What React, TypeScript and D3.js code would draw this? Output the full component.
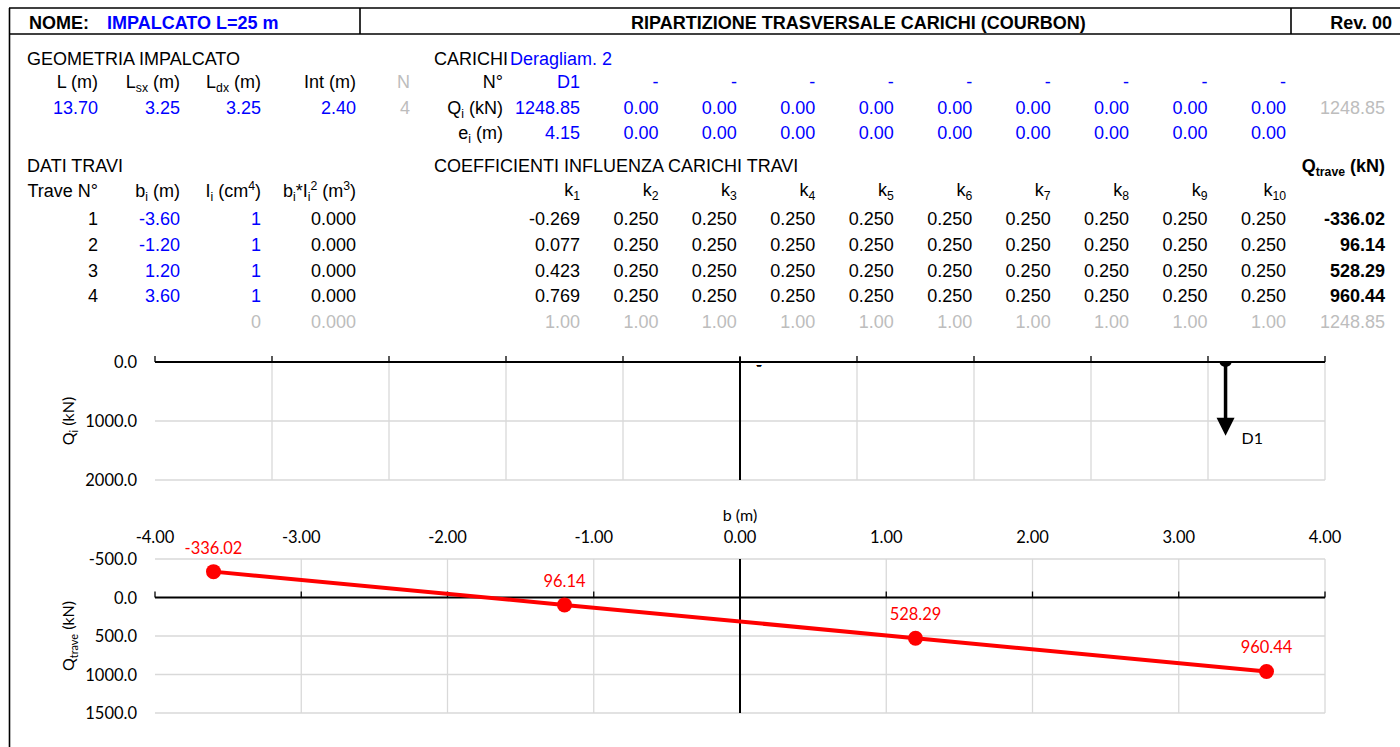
import React from 'react';
import * as d3 from 'd3';

// intestazione
const projectName = 'IMPALCATO L=25 m';
const sheetTitle = 'RIPARTIZIONE TRASVERSALE CARICHI (COURBON)';
const revision = 'Rev. 00';

// geometria impalcato
const geomValues = [13.7, 3.25, 3.25, 2.4];
const beamCount = 4;

// carichi
const loadCase = 'Deragliam. 2';
const loadNames = ['D1', '-', '-', '-', '-', '-', '-', '-', '-', '-'];
const loadQ = [1248.85, 0, 0, 0, 0, 0, 0, 0, 0, 0];
const loadE = [4.15, 0, 0, 0, 0, 0, 0, 0, 0, 0];
const loadTotal = 1248.85;

// travi
const beamNo = [1, 2, 3, 4];
const beamB = [-3.6, -1.2, 1.2, 3.6];
const beamI = [1, 1, 1, 1];
const beamBI2 = [0, 0, 0, 0];
const kRows = [
  [-0.269, 0.25, 0.25, 0.25, 0.25, 0.25, 0.25, 0.25, 0.25, 0.25],
  [0.077, 0.25, 0.25, 0.25, 0.25, 0.25, 0.25, 0.25, 0.25, 0.25],
  [0.423, 0.25, 0.25, 0.25, 0.25, 0.25, 0.25, 0.25, 0.25, 0.25],
  [0.769, 0.25, 0.25, 0.25, 0.25, 0.25, 0.25, 0.25, 0.25, 0.25],
];
const kSums = [1, 1, 1, 1, 1, 1, 1, 1, 1, 1];
const qTrave = [-336.02, 96.14, 528.29, 960.44];
const qTraveTotal = 1248.85;
const iTotal = 0;
const bi2Total = 0;

// assi grafici
const loadTicksX = [-5, -4, -3, -2, -1, 0, 1, 2, 3, 4, 5];
const loadTicksY = [0, 1000, 2000];
const beamTicksX = [-4, -3, -2, -1, 0, 1, 2, 3, 4];
const beamTicksY = [-500, 0, 500, 1000, 1500];

const TF = "'Liberation Sans', Arial, Helvetica, sans-serif";
const CF = "Lato, 'Open Sans', sans-serif";
const BLUE = '#0000ff';
const GRAY = '#bdbdbd';
const GRID = '#d9d9d9';

// formato con il trattino normale come segno meno (come Excel)
const loc = d3.formatLocale({ decimal: '.', thousands: '', grouping: [3], currency: ['', ''], minus: '-' });
const f2 = loc.format('.2f');
const f3 = loc.format('.3f');
const f1 = loc.format('.1f');

// colonne carichi / coefficienti (bordo destro)
const colX = d3.scaleLinear().domain([0, 9]).range([580, 1286]);
const totX = 1385;

type Part = string | { sub: string } | { sup: string };

function Rich({ parts, size = 18 }: { parts: Part[]; size?: number }) {
  const out: React.ReactNode[] = [];
  let shift = 0;
  parts.forEach((p, i) => {
    if (typeof p === 'string') {
      out.push(<tspan key={i} dy={-shift} fontSize={size}>{p}</tspan>);
      shift = 0;
    } else if ('sub' in p) {
      out.push(<tspan key={i} dy={4 - shift} fontSize={size * 0.68}>{p.sub}</tspan>);
      shift = 4;
    } else {
      out.push(<tspan key={i} dy={-7 - shift} fontSize={size * 0.68}>{p.sup}</tspan>);
      shift = -7;
    }
  });
  return <>{out}</>;
}

const T = (props: any) => (
  <text fontFamily={TF} fontSize={18} {...props} />
);

export default function App() {
  // grafico carichi
  const lx = d3.scaleLinear().domain([-5, 5]).range([155, 1325]);
  const ly = d3.scaleLinear().domain([0, 2000]).range([362, 480]);
  // grafico ripartizione
  const bx = d3.scaleLinear().domain([-4, 4]).range([155, 1325]);
  const by = d3.scaleLinear().domain([-500, 1500]).range([559, 713]);

  const pts = beamB.map((b, i) => ({ b, q: qTrave[i] }));
  const line = d3.line<{ b: number; q: number }>().x(d => bx(d.b)).y(d => by(d.q));

  const geomHead: Part[][] = [
    ['L (m)'],
    ['L', { sub: 'sx' }, ' (m)'],
    ['L', { sub: 'dx' }, ' (m)'],
    ['Int (m)'],
  ];
  const geomX = [98, 180, 261, 356];

  const beamHead: Part[][] = [
    ['Trave N°'],
    ['b', { sub: 'i' }, ' (m)'],
    ['I', { sub: 'i' }, ' (cm', { sup: '4' }, ')'],
    ['b', { sub: 'i' }, '*I', { sub: 'i' }, { sup: '2' }, ' (m', { sup: '3' }, ')'],
  ];
  const rowY = (i: number) => 225 + i * 25.8;

  return (
    <div style={{ position: 'absolute', left: 0, top: 0 }}>
      <svg width={1400} height={747} style={{ display: 'block', background: '#fff' }}>
        {/* cornice */}
        <g stroke="#000" strokeWidth={1.6}>
          <line x1={9} x2={1400} y1={8} y2={8} />
          <line x1={9} x2={1400} y1={34} y2={34} />
          <line x1={9.5} x2={9.5} y1={8} y2={747} />
          <line x1={360} x2={360} y1={8} y2={34} />
          <line x1={1291} x2={1291} y1={8} y2={34} />
        </g>
        <T x={29} y={29} fontWeight="bold">NOME:</T>
        <T x={107} y={29} fontWeight="bold" fill={BLUE}>{projectName}</T>
        <T x={631} y={29} fontWeight="bold">{sheetTitle}</T>
        <T x={1392} y={29} fontWeight="bold" textAnchor="end">{revision}</T>

        {/* geometria */}
        <T x={27} y={65}>GEOMETRIA IMPALCATO</T>
        {geomHead.map((p, i) => (
          <T key={i} x={geomX[i]} y={88} textAnchor="end"><Rich parts={p} /></T>
        ))}
        <T x={410} y={88} textAnchor="end" fill={GRAY}>N</T>
        {geomValues.map((v, i) => (
          <T key={i} x={geomX[i]} y={114} textAnchor="end" fill={BLUE}>{f2(v)}</T>
        ))}
        <T x={410} y={114} textAnchor="end" fill={GRAY}>{beamCount}</T>

        {/* carichi */}
        <T x={434} y={65}>CARICHI</T>
        <T x={510} y={65} fill={BLUE}>{loadCase}</T>
        <T x={503} y={88} textAnchor="end">N°</T>
        <T x={503} y={114} textAnchor="end"><Rich parts={['Q', { sub: 'i' }, ' (kN)']} /></T>
        <T x={503} y={139} textAnchor="end"><Rich parts={['e', { sub: 'i' }, ' (m)']} /></T>
        {loadNames.map((n, i) => (
          <T key={i} x={colX(i)} y={88} textAnchor="end" fill={BLUE}>{n}</T>
        ))}
        {loadQ.map((v, i) => (
          <T key={i} x={colX(i)} y={114} textAnchor="end" fill={BLUE}>{f2(v)}</T>
        ))}
        {loadE.map((v, i) => (
          <T key={i} x={colX(i)} y={139} textAnchor="end" fill={BLUE}>{f2(v)}</T>
        ))}
        <T x={totX} y={114} textAnchor="end" fill={GRAY}>{f2(loadTotal)}</T>

        {/* dati travi */}
        <T x={27} y={172}>DATI TRAVI</T>
        {beamHead.map((p, i) => (
          <T key={i} x={geomX[i]} y={197} textAnchor="end"><Rich parts={p} /></T>
        ))}
        {beamNo.map((n, i) => (
          <g key={i}>
            <T x={geomX[0]} y={rowY(i)} textAnchor="end">{n}</T>
            <T x={geomX[1]} y={rowY(i)} textAnchor="end" fill={BLUE}>{f2(beamB[i])}</T>
            <T x={geomX[2]} y={rowY(i)} textAnchor="end" fill={BLUE}>{beamI[i]}</T>
            <T x={geomX[3]} y={rowY(i)} textAnchor="end">{f3(beamBI2[i])}</T>
          </g>
        ))}
        <T x={geomX[2]} y={rowY(4)} textAnchor="end" fill={GRAY}>{iTotal}</T>
        <T x={geomX[3]} y={rowY(4)} textAnchor="end" fill={GRAY}>{f3(bi2Total)}</T>

        {/* coefficienti */}
        <T x={434} y={172}>COEFFICIENTI INFLUENZA CARICHI TRAVI</T>
        <T x={totX} y={172} textAnchor="end" fontWeight="bold">
          <Rich parts={['Q', { sub: 'trave' }, ' (kN)']} />
        </T>
        {kSums.map((_, j) => (
          <T key={j} x={colX(j)} y={196} textAnchor="end">
            <Rich parts={['k', { sub: String(j + 1) }]} />
          </T>
        ))}
        {kRows.map((row, i) => (
          <g key={i}>
            {row.map((k, j) => (
              <T key={j} x={colX(j)} y={rowY(i)} textAnchor="end">{f3(k)}</T>
            ))}
            <T x={totX} y={rowY(i)} textAnchor="end" fontWeight="bold">{f2(qTrave[i])}</T>
          </g>
        ))}
        {kSums.map((s, j) => (
          <T key={j} x={colX(j)} y={rowY(4)} textAnchor="end" fill={GRAY}>{f2(s)}</T>
        ))}
        <T x={totX} y={rowY(4)} textAnchor="end" fill={GRAY}>{f2(qTraveTotal)}</T>

        {/* grafico carichi */}
        <g>
          {loadTicksX.filter(t => t !== 0 && t !== -5).map(t => (
            <line key={t} x1={lx(t)} x2={lx(t)} y1={ly(0)} y2={ly(2000)} stroke={GRID} strokeWidth={1.3} />
          ))}
          {loadTicksY.filter(t => t !== 0).map(t => (
            <line key={t} x1={lx(-5)} x2={lx(5)} y1={ly(t)} y2={ly(t)} stroke={GRID} strokeWidth={1.3} />
          ))}
          <line x1={lx(0)} x2={lx(0)} y1={ly(0) - 5} y2={ly(2000)} stroke="#000" strokeWidth={2} />
          <line x1={lx(-5)} x2={lx(5)} y1={ly(0)} y2={ly(0)} stroke="#000" strokeWidth={2} />
          {loadTicksX.map(t => (
            <line key={t} x1={lx(t)} x2={lx(t)} y1={ly(0)} y2={ly(0) - 6} stroke="#000" strokeWidth={1.3} />
          ))}
          {loadTicksY.map(t => (
            <text key={t} x={137} y={ly(t) + 6} textAnchor="end" fontFamily={CF} fontSize={16.5}>{f1(t)}</text>
          ))}
          <text transform={`translate(74,${ly(1000)}) rotate(-90)`} textAnchor="middle" fontFamily={CF} fontSize={16}>
            <Rich parts={['Q', { sub: 'i' }, ' (kN)']} size={16} />
          </text>
          {loadQ.map((q, i) => {
            if (q <= 0) return null;
            const x = lx(loadE[i]);
            const y0 = ly(0);
            const y1 = ly(q);
            return (
              <g key={i}>
                <path d={`M${x - 6},${y0} A6,5 0 0 0 ${x + 6},${y0} Z`} fill="#000" />
                <line x1={x} x2={x} y1={y0} y2={y1 - 16} stroke="#000" strokeWidth={3.5} />
                <path d={`M${x - 9},${y1 - 18} L${x + 9},${y1 - 18} L${x},${y1} Z`} fill="#000" />
              </g>
            );
          })}
          {loadNames.map((n, i) => (
            <text key={i} x={lx(loadE[i]) + 16} y={ly(loadQ[i]) + 8} fontFamily={CF} fontSize={16}>{n}</text>
          ))}
        </g>

        {/* grafico ripartizione */}
        <g>
          {beamTicksX.filter(t => t !== 0 && t !== -4).map(t => (
            <line key={t} x1={bx(t)} x2={bx(t)} y1={by(-500)} y2={by(1500)} stroke={GRID} strokeWidth={1.3} />
          ))}
          {beamTicksY.filter(t => t !== 0).map(t => (
            <line key={t} x1={bx(-4)} x2={bx(4)} y1={by(t)} y2={by(t)} stroke={GRID} strokeWidth={1.3} />
          ))}
          <line x1={bx(0)} x2={bx(0)} y1={by(-500)} y2={by(1500)} stroke="#000" strokeWidth={2} />
          <line x1={bx(-4)} x2={bx(4)} y1={by(0)} y2={by(0)} stroke="#000" strokeWidth={2} />
          {beamTicksX.map(t => (
            <line key={t} x1={bx(t)} x2={bx(t)} y1={by(0)} y2={by(0) - 6} stroke="#000" strokeWidth={1.3} />
          ))}
          {beamTicksX.map(t => (
            <text key={t} x={bx(t)} y={543} textAnchor="middle" fontFamily={CF} fontSize={16.5}>{f2(t)}</text>
          ))}
          <text x={bx(0)} y={521} textAnchor="middle" fontFamily={CF} fontSize={16}>b (m)</text>
          {beamTicksY.map(t => (
            <text key={t} x={137} y={by(t) + 6} textAnchor="end" fontFamily={CF} fontSize={16.5}>{f1(t)}</text>
          ))}
          <text transform={`translate(74,${by(500)}) rotate(-90)`} textAnchor="middle" fontFamily={CF} fontSize={16}>
            <Rich parts={['Q', { sub: 'trave' }, ' (kN)']} size={16} />
          </text>
          <path d={line(pts) || ''} fill="none" stroke="#ff0000" strokeWidth={4} />
          {pts.map((p, i) => (
            <g key={i}>
              <circle cx={bx(p.b)} cy={by(p.q)} r={7.5} fill="#ff0000" />
              <text x={bx(p.b)} y={by(p.q) - 18} textAnchor="middle" fontFamily={CF} fontSize={16.5} fill="#ff0000">
                {f2(p.q)}
              </text>
            </g>
          ))}
        </g>
      </svg>
    </div>
  );
}
